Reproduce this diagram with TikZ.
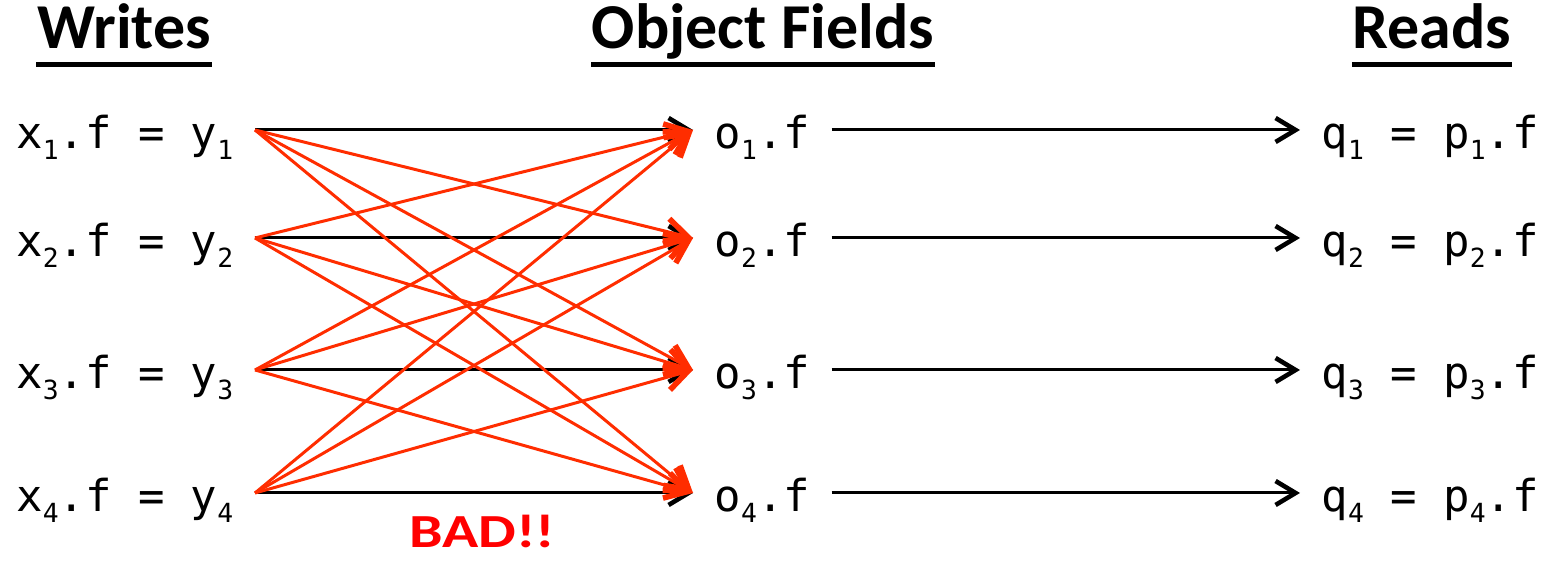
\documentclass[tikz,border=0pt]{standalone}
\usepackage{fontspec}
\setmonofont{DejaVu Sans Mono}
\newfontfamily\hdfont{Carlito}
\usetikzlibrary{arrows.meta}
\definecolor{badred}{RGB}{255,45,0}
\newcommand{\ix}[1]{\raisebox{-0.11cm}{\fontsize{7.5}{7.5}\selectfont #1}}
\tikzset{
  >={Straight Barb[length=2mm,width=2.4mm,line width=1.3pt]},
  m/.style={inner xsep=0.21cm,inner ysep=0pt,text height=0.42cm,text depth=0.04cm,font=\ttfamily\fontsize{12.5}{12.5}\selectfont},
  hd/.style={inner sep=0pt,anchor=base,font=\hdfont\bfseries\fontsize{18.2}{18.2}\selectfont},
  ul/.style={line width=0.05cm},
  blk/.style={->,line width=0.85pt},
  rx/.style={-{Straight Barb[length=2.2mm,width=2.6mm,line width=1.6pt]},badred,line width=0.85pt},
}
\begin{document}
\begin{tikzpicture}
\useasboundingbox (0,0) rectangle (15.46,-5.61);
% headers
\node[hd] (hw) at (1.24,-0.49){Writes}; \node[hd] (ho) at (7.63,-0.49){Object Fields}; \node[hd] (hr) at (14.32,-0.49){Reads};
\draw[ul] ([yshift=-0.155cm]hw.base west)--([yshift=-0.155cm]hw.base east);
\draw[ul] ([yshift=-0.155cm]ho.base west)--([yshift=-0.155cm]ho.base east);
\draw[ul] ([yshift=-0.155cm]hr.base west)--([yshift=-0.155cm]hr.base east);
% writes
\node[m,anchor=base east] (w1) at (2.55,-1.49){x\ix{1}.f = y\ix{1}}; \node[m,anchor=base east] (w2) at (2.55,-2.57){x\ix{2}.f = y\ix{2}};
\node[m,anchor=base east] (w3) at (2.55,-3.89){x\ix{3}.f = y\ix{3}}; \node[m,anchor=base east] (w4) at (2.55,-5.12){x\ix{4}.f = y\ix{4}};
% fields
\node[m,anchor=base west] (o1) at (6.93,-1.49){o\ix{1}.f}; \node[m,anchor=base west] (o2) at (6.93,-2.57){o\ix{2}.f};
\node[m,anchor=base west] (o3) at (6.93,-3.89){o\ix{3}.f}; \node[m,anchor=base west] (o4) at (6.93,-5.12){o\ix{4}.f};
% reads
\node[m,anchor=base west] (r1) at (13.00,-1.49){q\ix{1} = p\ix{1}.f}; \node[m,anchor=base west] (r2) at (13.00,-2.57){q\ix{2} = p\ix{2}.f};
\node[m,anchor=base west] (r3) at (13.00,-3.89){q\ix{3} = p\ix{3}.f}; \node[m,anchor=base west] (r4) at (13.00,-5.12){q\ix{4} = p\ix{4}.f};
\draw[blk] (w1.east)--(o1.west); \draw[blk] (w2.east)--(o2.west); \draw[blk] (w3.east)--(o3.west); \draw[blk] (w4.east)--(o4.west);
\draw[blk] (o1.east)--(r1.west); \draw[blk] (o2.east)--(r2.west); \draw[blk] (o3.east)--(r3.west); \draw[blk] (o4.east)--(r4.west);
% every write may reach every field
\draw[rx] (w1.east)--(o2.west); \draw[rx] (w1.east)--(o3.west); \draw[rx] (w1.east)--(o4.west);
\draw[rx] (w2.east)--(o1.west); \draw[rx] (w2.east)--(o3.west); \draw[rx] (w2.east)--(o4.west);
\draw[rx] (w3.east)--(o1.west); \draw[rx] (w3.east)--(o2.west); \draw[rx] (w3.east)--(o4.west);
\draw[rx] (w4.east)--(o1.west); \draw[rx] (w4.east)--(o2.west); \draw[rx] (w4.east)--(o3.west);
\node[inner sep=0pt,anchor=base,text=red,font=\hdfont\bfseries\fontsize{13.5}{13.5}\selectfont] (bad) at (4.82,-5.48){\scalebox{1.26}[1]{BAD!!}};
\end{tikzpicture}
\end{document}
